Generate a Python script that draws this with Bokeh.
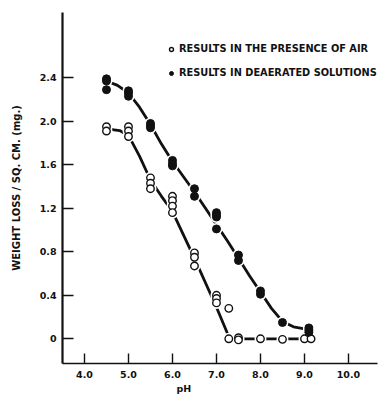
from bokeh.plotting import figure
from bokeh.models import FixedTicker, Legend, LegendItem, Title
from bokeh.embed import file_html
from bokeh.resources import INLINE

# ---- data ----
air_ph = [4.5, 4.5, 5.0, 5.0, 5.0, 5.5, 5.5, 5.5, 6.0, 6.0, 6.0, 6.0,
          6.5, 6.5, 6.5, 7.0, 7.0, 7.0, 7.28, 7.28, 7.5, 7.5, 8.0, 8.5, 9.0, 9.15]
air_loss = [1.95, 1.91, 1.95, 1.91, 1.86, 1.48, 1.43, 1.38, 1.31, 1.27, 1.22, 1.16,
            0.79, 0.75, 0.67, 0.40, 0.37, 0.33, 0.28, 0.0, 0.01, -0.01, 0.0, -0.005, 0.0, 0.0]

dea_ph = [4.5, 4.5, 4.5, 5.0, 5.0, 5.0, 5.5, 5.5, 5.5, 6.0, 6.0, 6.0, 6.5, 6.5,
          7.0, 7.0, 7.0, 7.0, 7.5, 7.5, 8.0, 8.0, 8.5, 9.1, 9.1, 9.1]
dea_loss = [2.39, 2.37, 2.29, 2.28, 2.26, 2.23, 1.98, 1.96, 1.94, 1.64, 1.61, 1.59, 1.38, 1.31,
            1.16, 1.14, 1.12, 1.01, 0.77, 0.72, 0.44, 0.41, 0.15, 0.10, 0.08, 0.06]

# fitted curves drawn through the points
air_curve_ph = [4.5, 4.8, 5.0, 5.25, 5.5, 5.75, 6.0, 6.5, 7.0, 7.3, 9.15]
air_curve_loss = [1.93, 1.915, 1.87, 1.68, 1.46, 1.31, 1.17, 0.74, 0.29, 0.0, 0.0]

dea_curve_ph = [4.5, 4.75, 5.0, 5.25, 5.5, 5.75, 6.0, 6.25, 6.5, 6.75, 7.0, 7.25,
                7.5, 7.75, 8.0, 8.25, 8.5, 8.75, 9.1]
dea_curve_loss = [2.37, 2.33, 2.26, 2.13, 1.97, 1.79, 1.63, 1.49, 1.35, 1.20, 1.05, 0.90,
                  0.74, 0.58, 0.43, 0.28, 0.16, 0.11, 0.085]

x_ticks = [4.0, 5.0, 6.0, 7.0, 8.0, 9.0, 10.0]
x_tick_labels = ["4.0", "5.0", "6.0", "7.0", "8.0", "9.0", "10.0"]
y_ticks = [0.0, 0.4, 0.8, 1.2, 1.6, 2.0, 2.4]
y_tick_labels = ["0", "0.4", "0.8", "1.2", "1.6", "2.0", "2.4"]

legend_air = "RESULTS IN THE PRESENCE OF AIR"
legend_dea = "RESULTS IN DEAERATED SOLUTIONS"
x_title = "pH"
y_title = "WEIGHT LOSS / SQ. CM. (mg.)"

FONT = "DejaVu Sans"
INK = "#111111"

p = figure(width=378, height=395, output_backend="svg", toolbar_location=None,
           x_range=(3.5, 10.66), y_range=(-0.227, 3.0),
           min_border_left=62, min_border_right=1, min_border_top=12, min_border_bottom=32)
p.outline_line_color = None
p.xgrid.visible = False
p.ygrid.visible = False
p.background_fill_color = "white"
p.border_fill_color = "white"

for ax in (p.xaxis[0], p.yaxis[0]):
    ax.axis_line_color = INK
    ax.major_tick_line_color = INK
    ax.major_tick_out = 0
    ax.minor_tick_line_color = None
    ax.major_label_text_font = FONT
    ax.major_label_text_font_style = "bold"
    ax.major_label_text_font_size = "9.5px"
    ax.major_label_text_color = INK

p.xaxis[0].ticker = FixedTicker(ticks=x_ticks)
p.xaxis[0].major_label_overrides = dict(zip(x_ticks, x_tick_labels))
p.xaxis[0].major_tick_in = 10
p.xaxis[0].axis_line_width = 1.6
p.xaxis[0].major_tick_line_width = 1.4
p.xaxis[0].major_label_standoff = 7

p.yaxis[0].ticker = FixedTicker(ticks=y_ticks)
p.yaxis[0].major_label_overrides = dict(zip(y_ticks, y_tick_labels))
p.yaxis[0].major_tick_in = 11
p.yaxis[0].axis_line_width = 2.2
p.yaxis[0].major_tick_line_width = 1.4
p.yaxis[0].major_label_standoff = 6
p.yaxis[0].axis_label = y_title
p.yaxis[0].axis_label_text_font = FONT
p.yaxis[0].axis_label_text_font_style = "bold"
p.yaxis[0].axis_label_text_font_size = "10px"
p.yaxis[0].axis_label_text_color = INK
p.yaxis[0].axis_label_standoff = 15

# curves
p.line(dea_curve_ph, dea_curve_loss, line_color=INK, line_width=2.8)
p.line(air_curve_ph, air_curve_loss, line_color=INK, line_width=2.8)

# white halos to break the curve at the points
p.scatter(air_ph, air_loss, size=12, fill_color="white", line_color=None)
p.scatter(dea_ph, dea_loss, size=12, fill_color="white", line_color=None)

r_air = p.scatter(air_ph, air_loss, size=7.5, marker="circle", fill_color="white",
                  line_color=INK, line_width=1.4)
r_dea = p.scatter(dea_ph, dea_loss, size=8, marker="circle", fill_color=INK,
                  line_color=INK, line_width=1)

legend = Legend(items=[LegendItem(label=legend_air, renderers=[r_air]),
                       LegendItem(label=legend_dea, renderers=[r_dea])],
                location=(104, 285), orientation="vertical",
                glyph_width=10, glyph_height=10, label_height=10, label_standoff=3,
                spacing=13, padding=0, margin=0,
                border_line_color=None, background_fill_alpha=0,
                label_text_font=FONT, label_text_font_style="bold",
                label_text_font_size="9.8px", label_text_color=INK)
p.add_layout(legend, "center")

xt = Title(text=x_title, align="left", offset=114, standoff=0,
           text_font=FONT, text_font_style="bold", text_font_size="9.5px",
           text_color=INK)
p.add_layout(xt, "below")

open("out.html", "w").write(file_html(p, INLINE))
